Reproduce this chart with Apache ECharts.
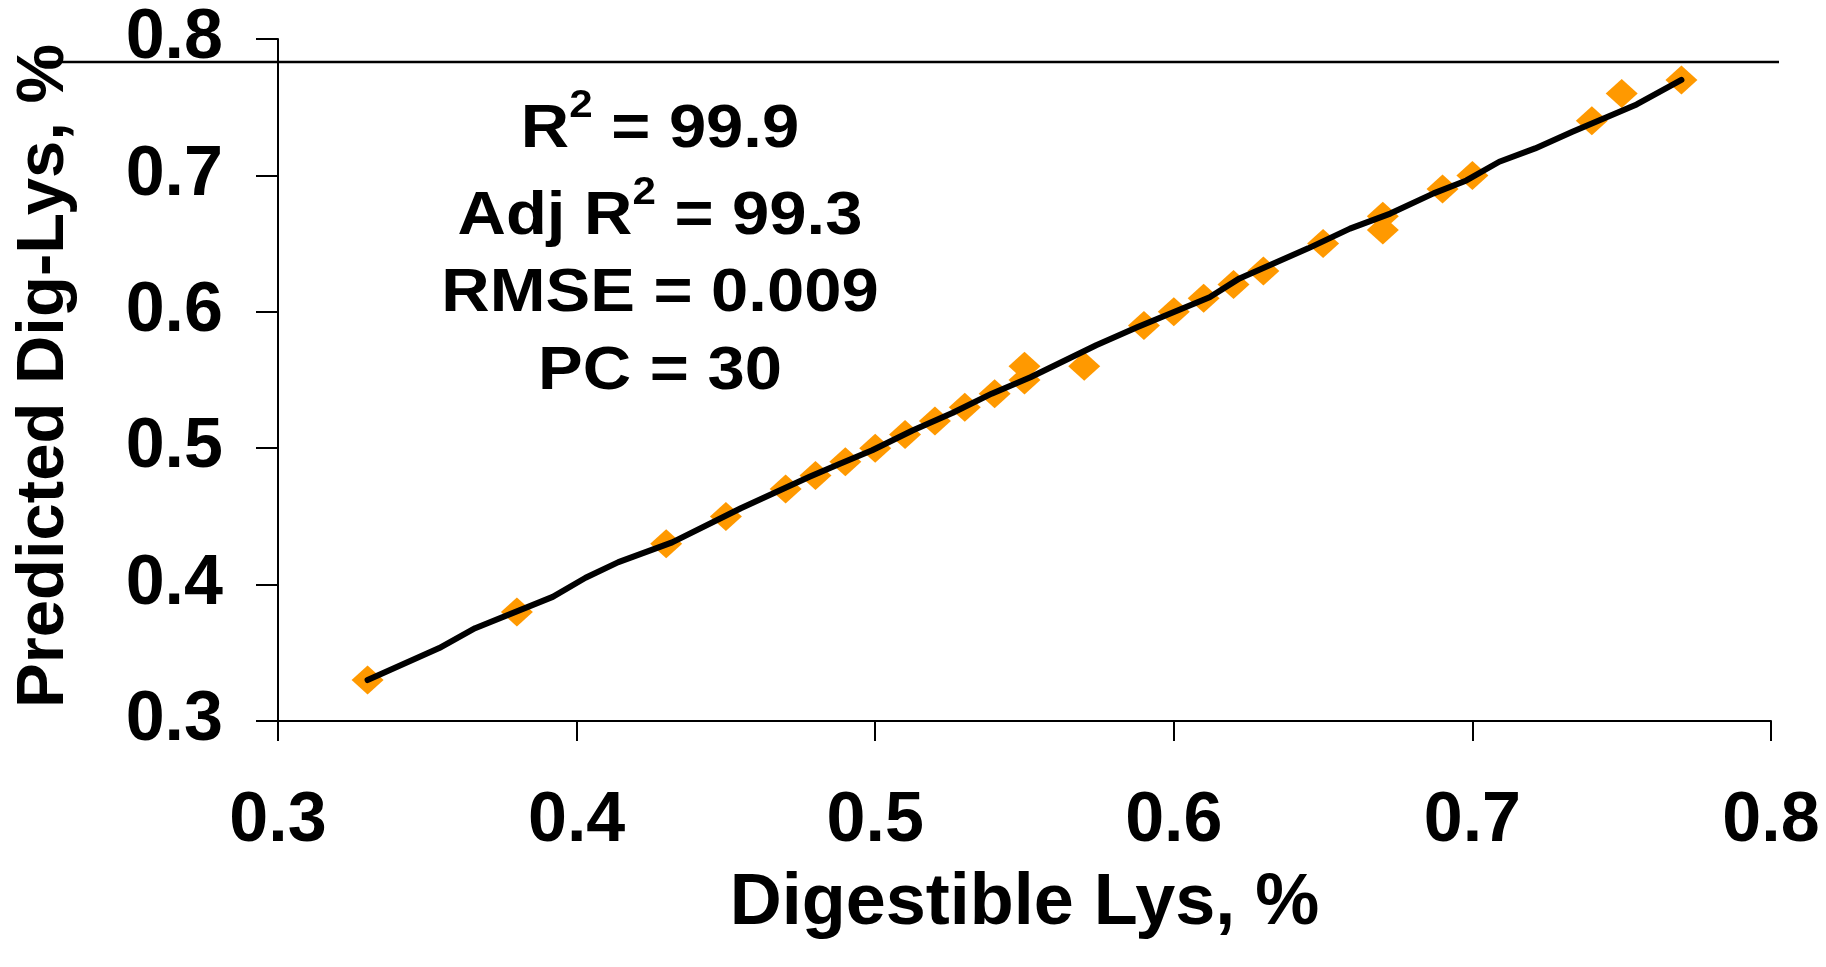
<!DOCTYPE html>
<html>
<head>
<meta charset="utf-8">
<title>Predicted vs digestible Lys</title>
<script src="https://cdn.jsdelivr.net/npm/echarts@6/dist/echarts.min.js"></script>
<style>
    html, body { margin: 0; padding: 0; background: #fff; }
    #chart { width: 1826px; height: 967px; }
</style>
</head>
<body>
<div id="chart"></div>
<script type="text/javascript">
    // 观测值（散点）
    var digLys = [0.33, 0.38, 0.43, 0.45, 0.47, 0.48, 0.49, 0.50, 0.51, 0.52, 0.53, 0.54, 0.55, 0.55,
        0.57, 0.59, 0.60, 0.61, 0.62, 0.63, 0.65, 0.67, 0.67, 0.69, 0.70, 0.74, 0.75, 0.77];
    var observedLys = [0.33, 0.38, 0.43, 0.45, 0.47, 0.48, 0.49, 0.50, 0.51, 0.52, 0.53, 0.54, 0.55, 0.56,
        0.56, 0.59, 0.60, 0.61, 0.62, 0.63, 0.65, 0.67, 0.66, 0.69, 0.70, 0.74, 0.76, 0.77];

    // 预测线
    var fitX = [0.330, 0.354, 0.366, 0.392, 0.403, 0.414, 0.432, 0.455, 0.478, 0.488, 0.499, 0.5125,
        0.526, 0.539, 0.552, 0.574, 0.5877, 0.612, 0.622, 0.645, 0.659, 0.6725, 0.687, 0.698,
        0.709, 0.721, 0.7335, 0.755, 0.770];
    var fitY = [0.330, 0.3535, 0.368, 0.391, 0.405, 0.4165, 0.431, 0.456, 0.479, 0.4885, 0.4985, 0.513,
        0.526, 0.540, 0.552, 0.5755, 0.5886, 0.6106, 0.6245, 0.6465, 0.661, 0.672, 0.6868, 0.6963,
        0.710, 0.7198, 0.732, 0.752, 0.770];

    var xTickLabels = ['0.3', '0.4', '0.5', '0.6', '0.7', '0.8'];
    var yTickLabels = ['0.3', '0.4', '0.5', '0.6', '0.7', '0.8'];
    var statLines = [
        '{a|R}{s|2}{a| = 99.9}',
        '{a|Adj R}{s|2}{a| = 99.3}',
        '{a|RMSE = 0.009}',
        '{a|PC = 30}'
    ];

    var font = '"Liberation Sans", Arial, sans-serif';

    var chart = echarts.init(document.getElementById('chart'));

    var scatterData = [];
    for (var i = 0; i < digLys.length; i++) {
        scatterData.push([digLys[i], observedLys[i]]);
    }
    var fitData = [];
    for (var j = 0; j < fitX.length; j++) {
        fitData.push([fitX[j], fitY[j]]);
    }

    function tickLabel(list) {
        return function (v) {
            var idx = Math.round((v - 0.3) / 0.1);
            return list[idx] !== undefined ? list[idx] : '';
        };
    }

    var richStyle = {
        a: { fontSize: 62, fontWeight: 'bold', fontFamily: font, color: '#000', lineHeight: 70 },
        s: { fontSize: 39, fontWeight: 'bold', fontFamily: font, color: '#000', padding: [0, 0, 48, 0] }
    };
    var statY = [130, 217, 294, 372];
    var graphics = [{
        type: 'line',
        shape: { x1: 37, y1: 62, x2: 1779, y2: 62 },
        style: { stroke: '#000', lineWidth: 2.5 },
        silent: true
    }];
    for (var k = 0; k < statLines.length; k++) {
        graphics.push({
            type: 'text',
            x: 660,
            y: statY[k],
            scaleX: 1.08,
            style: {
                text: statLines[k],
                align: 'center',
                verticalAlign: 'middle',
                rich: richStyle
            }
        });
    }

    var option = {
        animation: false,
        backgroundColor: '#fff',
        grid: { left: 278, right: 55, top: 39, bottom: 246 },
        xAxis: {
            type: 'value',
            min: 0.3,
            max: 0.8,
            interval: 0.1,
            name: 'Digestible Lys, %',
            nameLocation: 'middle',
            nameGap: 147,
            nameTextStyle: { fontSize: 72, fontWeight: 'bold', fontFamily: font, color: '#000' },
            axisLine: { show: true, onZero: false, lineStyle: { color: '#000', width: 2 } },
            axisTick: { show: true, inside: false, length: 20, lineStyle: { color: '#000', width: 2 } },
            axisLabel: { margin: 66, fontSize: 70, fontWeight: 'bold', fontFamily: font, color: '#000', formatter: tickLabel(xTickLabels) },
            splitLine: { show: false }
        },
        yAxis: {
            type: 'value',
            min: 0.3,
            max: 0.8,
            interval: 0.1,
            name: 'Predicted Dig-Lys, %',
            nameLocation: 'middle',
            nameGap: 200,
            nameTextStyle: { fontSize: 67, fontWeight: 'bold', fontFamily: font, color: '#000', padding: [0, 0, 0, 8] },
            axisLine: { show: true, onZero: false, lineStyle: { color: '#000', width: 2 } },
            axisTick: { show: true, inside: false, length: 22, lineStyle: { color: '#000', width: 2 } },
            axisLabel: { margin: 55, fontSize: 70, fontWeight: 'bold', fontFamily: font, color: '#000', formatter: tickLabel(yTickLabels) },
            splitLine: { show: false }
        },
        graphic: graphics,
        series: [{
            name: 'Observed',
            type: 'scatter',
            symbol: 'diamond',
            symbolSize: [32, 29],
            itemStyle: { color: '#FF9900', opacity: 1 },
            data: scatterData,
            z: 2
        }, {
            name: 'Predicted',
            type: 'line',
            symbol: 'none',
            lineStyle: { color: '#000', width: 6, cap: 'round', join: 'round' },
            data: fitData,
            z: 3
        }]
    };

    chart.setOption(option);
</script>
</body>
</html>
